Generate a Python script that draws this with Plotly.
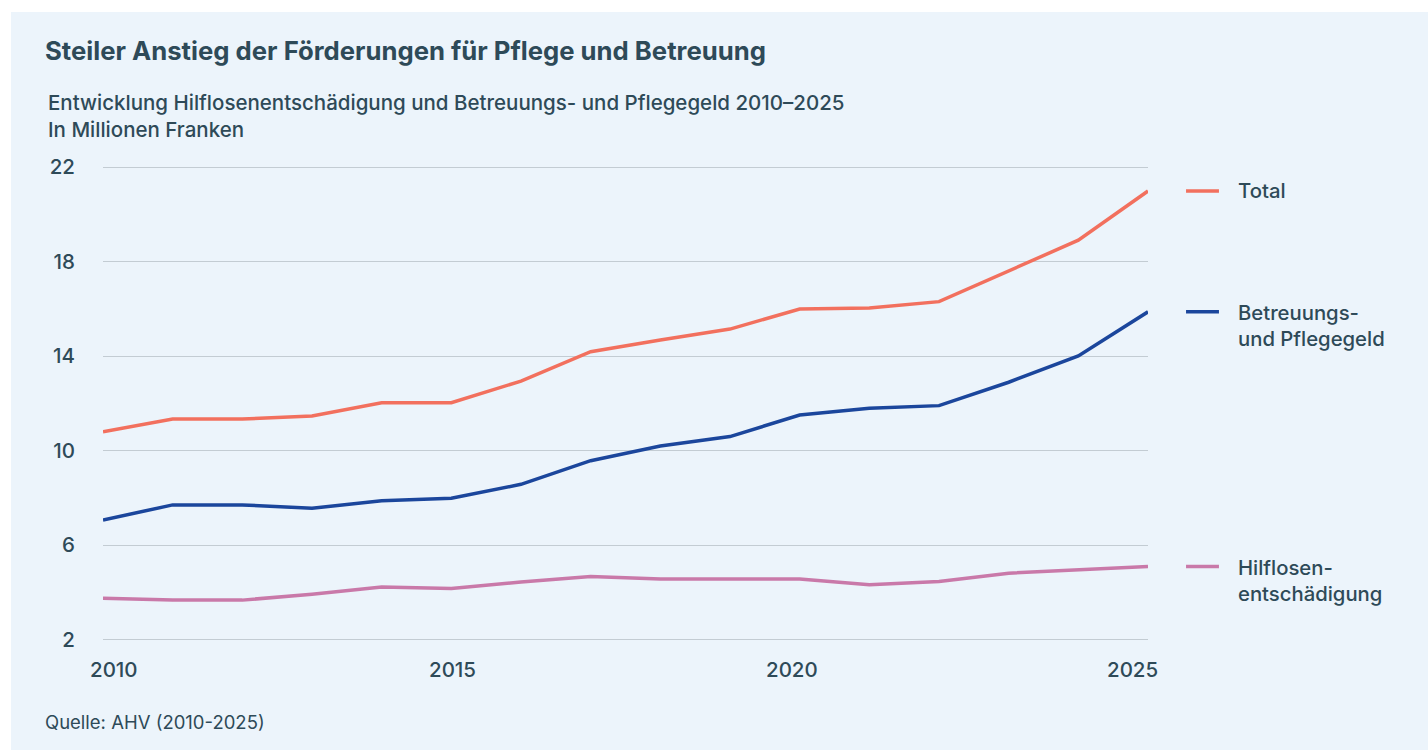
import plotly.graph_objects as go

years = list(range(2010, 2026))
total = [10.8, 11.34, 11.34, 11.47, 12.03, 12.03, 12.95, 14.19, 14.69, 15.15, 16.0, 16.04, 16.31, 17.62, 18.91, 20.99]
betreuung = [7.07, 7.71, 7.71, 7.57, 7.88, 7.99, 8.58, 9.58, 10.2, 10.6, 11.51, 11.8, 11.91, 12.9, 14.01, 15.88]
hilflosen = [3.76, 3.68, 3.68, 3.93, 4.23, 4.17, 4.45, 4.68, 4.57, 4.57, 4.57, 4.33, 4.47, 4.82, 4.96, 5.1]

series_names = ["Total", "Betreuungs-<br>und Pflegegeld", "Hilflosen-<br>entschädigung"]
series_values = [total, betreuung, hilflosen]
series_colors = ["#F2705E", "#1B469C", "#C979A9"]

y_ticks = [2, 6, 10, 14, 18, 22]
x_ticks = [2010, 2015, 2020, 2025]
x_tick_shift = [11, 1, -8, -16]

TEXT = "#2E4A58"
FONT = "Inter"

fig = go.Figure()
for name, vals, col in zip(series_names, series_values, series_colors):
    fig.add_trace(go.Scatter(x=years, y=vals, mode="lines", name=name,
                             line=dict(color=col, width=3.5), showlegend=False,
                             hoverinfo="x+y"))

# plot area: y from 166 to 641 px (height 475)
def py(p):
    return (641 - p) / 475

# background panel
fig.add_shape(type="rect", xref="paper", yref="paper",
              x0=-0.0880, x1=1.27, y0=py(752), y1=py(12),
              fillcolor="#ECF4FB", line=dict(width=0), layer="below")

# legend-like labels at the end values
for name, vals, col in zip(series_names, series_values, series_colors):
    last = vals[-1]
    fig.add_shape(type="line", xref="paper", yref="y",
                  x0=1.0364, x1=1.0679, y0=last, y1=last,
                  line=dict(color=col, width=3.5))
    multi = "<br>" in name
    fig.add_annotation(xref="paper", yref="y", x=1.0842, y=last, text=name,
                       showarrow=False, xanchor="left",
                       yanchor="top" if multi else "middle",
                       yshift=14 if multi else 1, align="left",
                       font=dict(family=FONT, size=20.3, color=TEXT, weight=500))

# x tick labels
for yr, sh in zip(x_ticks, x_tick_shift):
    fig.add_annotation(xref="x", yref="paper", x=yr, y=py(641), yanchor="top", yshift=-14,
                       xshift=sh, text=str(yr), showarrow=False,
                       font=dict(family=FONT, size=20.5, color=TEXT, weight=500))

# titles
fig.add_annotation(xref="paper", yref="paper", x=-0.0575, y=py(51), xanchor="left",
                   yanchor="middle", showarrow=False,
                   text="<b>Steiler Anstieg der Förderungen für Pflege und Betreuung</b>",
                   font=dict(family=FONT, size=25.7, color=TEXT))
fig.add_annotation(xref="paper", yref="paper", x=-0.0546, y=py(88), xanchor="left",
                   yanchor="top", showarrow=False, align="left",
                   text="Entwicklung Hilflosenentschädigung und Betreuungs- und Pflegegeld 2010–2025<br>In Millionen Franken",
                   font=dict(family=FONT, size=20.5, color=TEXT, weight=500))
fig.add_annotation(xref="paper", yref="paper", x=-0.0575, y=py(722), xanchor="left",
                   yanchor="middle", showarrow=False,
                   text="Quelle: AHV (2010-2025)",
                   font=dict(family=FONT, size=18.5, color=TEXT))

fig.update_layout(
    width=1428, height=750,
    margin=dict(l=103, r=280, t=166, b=109),
    paper_bgcolor="white", plot_bgcolor="rgba(0,0,0,0)",
    font=dict(family=FONT, color=TEXT),
    xaxis=dict(range=[2010, 2025], showgrid=False, zeroline=False, showline=False,
               showticklabels=False, fixedrange=True),
    yaxis=dict(range=[1.95, 22.05], tickvals=y_ticks, showgrid=True, gridcolor="#C3CCD3",
               gridwidth=1.3, zeroline=False, showline=False, ticklabelstandoff=27,
               tickfont=dict(family=FONT, size=20.5, color=TEXT, weight=500), fixedrange=True),
    hovermode="closest",
)

fig.write_html("out.html", config={"displayModeBar": False},
               post_script="document.body.style.margin='0';document.body.style.overflow='hidden';")
